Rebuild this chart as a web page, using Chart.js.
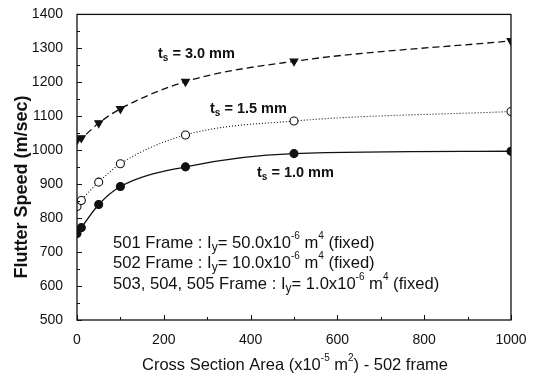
<!DOCTYPE html>
<html><head><meta charset="utf-8">
<script src="https://cdn.jsdelivr.net/npm/chart.js@4.4.0/dist/chart.umd.min.js"></script>
<style>html,body{margin:0;padding:0;background:#fff}canvas{display:block}</style>
</head><body>
<canvas id="c" width="533" height="378"></canvas>
<script>
const xArea = [0, 10, 50, 100, 250, 500, 1000];
const ts30 = [1030, 1036, 1080, 1122, 1202, 1262, 1322];
const ts15 = [834, 852, 906, 960, 1045, 1086, 1114];
const ts10 = [755, 772, 840, 893, 951, 990, 997];
const yTicks = [500, 600, 700, 800, 900, 1000, 1100, 1200, 1300, 1400];
const xTicks = [0, 200, 400, 600, 800, 1000];
const seriesLabels = ['3.0 mm', '1.5 mm', '1.0 mm'];
const frameLines = [
  ['501 Frame : I', 'y', '= 50.0x10', '-6', ' m', '4', ' (fixed)'],
  ['502 Frame : I', 'y', '= 10.0x10', '-6', ' m', '4', ' (fixed)'],
  ['503, 504, 505 Frame : I', 'y', '= 1.0x10', '-6', ' m', '4', ' (fixed)']
];
const FONT = '"Liberation Sans", Arial, sans-serif';

function pts(ys){ return xArea.map((x,i)=>({x:x, y:ys[i]})); }

function rich(ctx, x, y, parts, kinds, size, bold){
  const w = bold ? 'bold ' : '';
  let cx = x;
  parts.forEach((p,i)=>{
    const k = kinds[i];
    if(k==='n'){ ctx.font = w+size+'px '+FONT; ctx.fillText(p, cx, y); cx += ctx.measureText(p).width; }
    else if(k==='sub'){ ctx.font = w+Math.round(size*0.7)+'px '+FONT; ctx.fillText(p, cx, y+size*0.3); cx += ctx.measureText(p).width; }
    else { ctx.font = w+Math.round(size*0.62)+'px '+FONT; ctx.fillText(p, cx, y-size*0.4); cx += ctx.measureText(p).width; }
  });
  return cx - x;
}
function richWidth(ctx, parts, kinds, size, bold){
  const w = bold ? 'bold ' : '';
  let t = 0;
  parts.forEach((p,i)=>{ ctx.font = w+(kinds[i]==='n'?size:Math.round(size*(kinds[i]==='sub'?0.7:0.62)))+'px '+FONT; t += ctx.measureText(p).width; });
  return t;
}

const deco = {
  id:'deco',
  afterDraw(chart){
    const ctx = chart.ctx, a = chart.chartArea;
    const xs = chart.scales.x, ys = chart.scales.y;
    ctx.save();
    ctx.strokeStyle = '#111'; ctx.lineWidth = 1.3;
    ctx.strokeRect(a.left, a.top, a.right-a.left, a.bottom-a.top);
    ctx.lineWidth = 1;
    ctx.beginPath();
    for(let v=500; v<=1400; v+=50){
      const py = Math.round(ys.getPixelForValue(v))+0.5;
      const L = (v%100===0)?5:3;
      ctx.moveTo(a.left, py); ctx.lineTo(a.left+L, py);
    }
    for(let v=0; v<=1000; v+=100){
      const px = Math.round(xs.getPixelForValue(v))+0.5;
      const L = (v%200===0)?5:3;
      ctx.moveTo(px, a.bottom); ctx.lineTo(px, a.bottom-L);
    }
    ctx.stroke();
    ctx.fillStyle = '#111';
    ctx.textBaseline = 'middle'; ctx.textAlign = 'left';
    const ann = [[158,54],[210,109],[257,173]];
    ann.forEach((p,i)=>{
      rich(ctx, p[0], p[1], ['t','s',' = '+seriesLabels[i]], ['n','sub','n'], 14.5, true);
    });
    const fy = [243, 263, 284];
    frameLines.forEach((parts,i)=>{
      rich(ctx, 113, fy[i], parts, ['n','sub','n','sup','n','sup','n'], 16.6, false);
    });
    const xp = ['Cross Section Area (x10','-5',' m','2',') - 502 frame'];
    const xk = ['n','sup','n','sup','n'];
    const tw = richWidth(ctx, xp, xk, 16.5, false);
    rich(ctx, (a.left+a.right)/2 - tw/2 + 1, 365, xp, xk, 16.5, false);
    ctx.translate(22, 187);
    ctx.rotate(-Math.PI/2);
    ctx.textAlign = 'center';
    ctx.font = 'bold 18px '+FONT;
    ctx.fillText('Flutter Speed (m/sec)', 0, 0);
    ctx.restore();
  }
};

const common = {borderColor:'#111', borderWidth:1.3, cubicInterpolationMode:'monotone', pointRadius:4, pointBorderWidth:1.1, pointBorderColor:'#111'};
new Chart(document.getElementById('c'), {
  type:'line',
  data:{datasets:[
    Object.assign({}, common, {label:'ts = 3.0 mm', data:pts(ts30), borderDash:[7,4], pointStyle:'triangle', rotation:180, pointBackgroundColor:'#111', pointRadius:4.5}),
    Object.assign({}, common, {label:'ts = 1.5 mm', data:pts(ts15), borderDash:[1,2], borderWidth:1.1, pointStyle:'circle', pointBackgroundColor:'#fff'}),
    Object.assign({}, common, {label:'ts = 1.0 mm', data:pts(ts10), pointStyle:'circle', pointBackgroundColor:'#111'})
  ]},
  options:{
    responsive:false, animation:false,
    layout:{padding:{top:13, right:22, left:0, bottom:0}},
    plugins:{legend:{display:false}, tooltip:{enabled:false}},
    scales:{
      x:{type:'linear', min:0, max:1000,
         afterBuildTicks(s){ s.ticks = xTicks.map(v=>({value:v})); },
         afterFit(s){ s.height = 58; },
         grid:{display:false}, border:{display:false},
         ticks:{color:'#111', font:{family:FONT, size:14}, padding:4, maxRotation:0, callback:v=>String(v)}},
      y:{type:'linear', min:500, max:1400,
         afterBuildTicks(s){ s.ticks = yTicks.map(v=>({value:v})); },
         afterFit(s){ s.width = 77; },
         grid:{display:false}, border:{display:false},
         ticks:{color:'#111', font:{family:FONT, size:14}, padding:6, callback:v=>String(v)}}
    }
  },
  plugins:[deco]
});
</script>
</body></html>
